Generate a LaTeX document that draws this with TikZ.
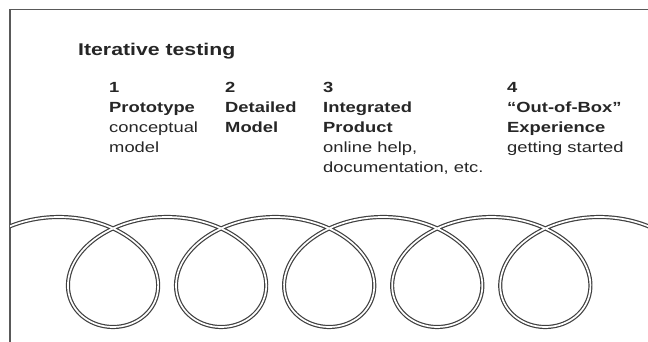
\documentclass[tikz,border=0pt]{standalone}
\usepackage{fontspec}
\setmainfont[FakeStretch=1.25]{Liberation Sans}
\usetikzlibrary{positioning}

\begin{document}
\begin{tikzpicture}[x=1pt, y=-1pt,
    every node/.style={inner sep=0pt, anchor=base west, align=left, text=black!85},
    steptext/.style={font=\fontsize{14.7}{20}\selectfont, anchor=north west},
    coil/.style={draw=black!75, line width=1.2pt, double=white, double distance=1.7pt}]
    \useasboundingbox (0,0) rectangle (648,342);
    % frame, open at the right and bottom
    \draw[black!65, line width=1.2pt] (648,9.5) -- (10,9.5) -- (10,342);
    % title
    \node[font=\fontsize{17}{20}\selectfont\bfseries] (title) at (78,56) {Iterative testing};
    % the four steps
    \foreach \n/\px/\body in {1/109/{\textbf{Prototype}\\conceptual\\model},
        2/225/{\textbf{Detailed}\\\textbf{Model}},
        3/323/{\textbf{Integrated}\\\textbf{Product}\\online help,\\documentation, etc.},
        4/507/{\textbf{“Out-of-Box”}\\\textbf{Experience}\\getting started}} {
        \node[steptext] (s\n) at (\px,82.5) {\textbf{\n}\\\body};
    }
    % the coil
    \begin{scope}
        \clip (10,0) rectangle (648,342);
        \draw[coil] plot[domain=-0.62:32.05, samples=500, smooth]
            ({59+17.2*\x+70*sin(\x r)},{272-55*cos(\x r)});
    \end{scope}
\end{tikzpicture}
\end{document}
